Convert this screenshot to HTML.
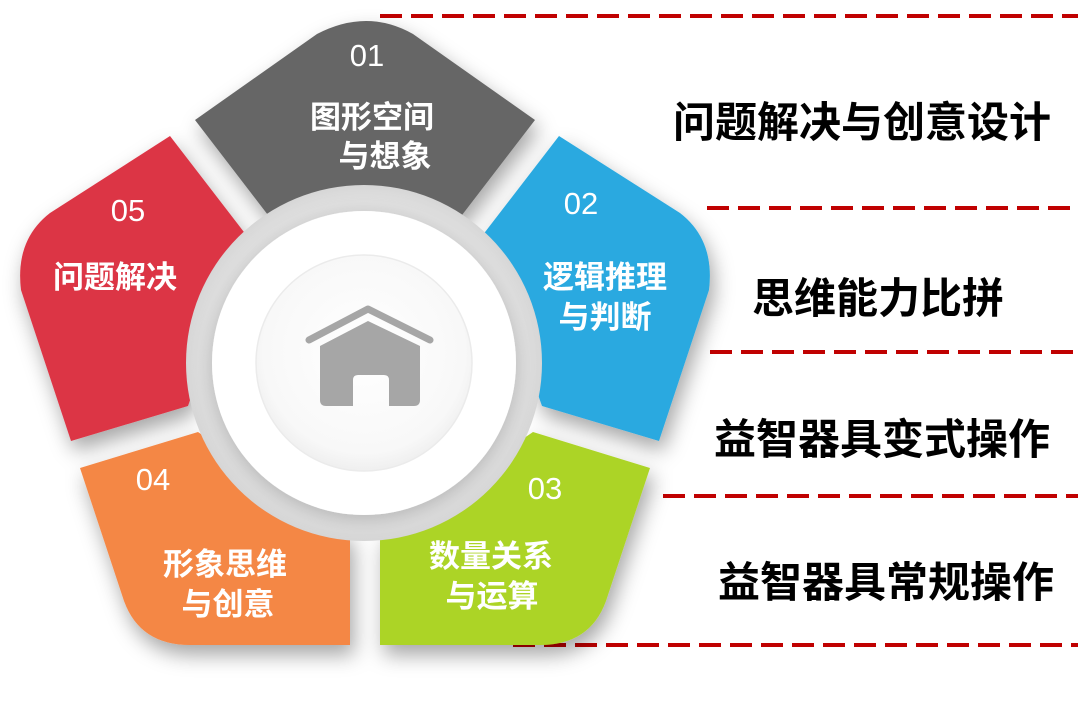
<!DOCTYPE html>
<html><head><meta charset="utf-8"><style>
html,body{margin:0;padding:0;background:#fff;}
svg{display:block;}
text{font-family:"Liberation Sans","Noto Sans CJK SC",sans-serif;}
</style></head><body>
<svg width="1081" height="711" viewBox="0 0 1081 711" xmlns="http://www.w3.org/2000/svg">
<defs>
<filter id="sh" x="-30%" y="-30%" width="160%" height="160%">
<feDropShadow dx="4" dy="10" stdDeviation="10" flood-color="#000" flood-opacity="0.35"/>
</filter>
<filter id="sh2" x="-30%" y="-30%" width="160%" height="160%">
<feDropShadow dx="0" dy="4" stdDeviation="10" flood-color="#000" flood-opacity="0.25"/>
</filter>
<radialGradient id="ring" cx="50%" cy="50%" r="50%">
<stop offset="82%" stop-color="#ececec"/><stop offset="100%" stop-color="#d6d6d6"/>
</radialGradient>
<radialGradient id="inner" cx="50%" cy="45%" r="55%">
<stop offset="0%" stop-color="#ffffff"/><stop offset="85%" stop-color="#f8f8f8"/><stop offset="100%" stop-color="#efefef"/>
</radialGradient>
</defs>
<g stroke="#c00000" stroke-width="4" stroke-dasharray="22 9">
<line x1="380" y1="16" x2="1078" y2="16"/>
<line x1="707" y1="208" x2="1072" y2="208"/>
<line x1="710" y1="352" x2="1074" y2="352"/>
<line x1="663" y1="496" x2="1078" y2="496"/>
<line x1="513" y1="645" x2="1078" y2="645"/>
</g>
<g filter="url(#sh)">
<path d="M195,120 L317,34 Q367,8 413,34 L535,120 L459,219 L271,219 Z" fill="#666666"/>
<path d="M559,136 L680,213 Q715,240 709,290 L659,441 L542,406 L482,236 Z" fill="#29a9e0"/>
<path d="M533,432 L650,468 L606,601 Q590,645 540,645 L380,645 L380,536 Z" fill="#acd425"/>
<path d="M198,432 L80,468 L124,601 Q140,645 190,645 L350,645 L350,536 Z" fill="#f48745"/>
<path d="M170,136 L50,213 Q15,240 21,290 L71,441 L188,406 L247,236 Z" fill="#dc3545"/>
</g>
<circle cx="364" cy="363" r="178" fill="url(#ring)"/>
<circle cx="364" cy="363" r="152" fill="#fff" filter="url(#sh2)"/>
<circle cx="364" cy="363" r="108" fill="url(#inner)" stroke="#ebebeb" stroke-width="1.5"/>
<g fill="#a6a6a6">
<path d="M309,340 L368,309 L430,340" fill="none" stroke="#a6a6a6" stroke-width="7" stroke-linecap="round" stroke-linejoin="round"/>
<path d="M320,346 L368,321 L420,346 L420,400 Q420,406 414,406 L389,406 L389,380 Q389,375 384,375 L358,375 Q353,375 353,380 L353,406 L326,406 Q320,406 320,400 Z"/>
</g>
<g fill="#fff" text-anchor="middle">
<text x="367" y="66" font-size="31">01</text>
<text x="372" y="128" font-size="31" font-weight="bold">图形空间</text>
<text x="385" y="167" font-size="31" font-weight="bold">与想象</text>
<text x="581" y="214" font-size="31">02</text>
<text x="605" y="288" font-size="31" font-weight="bold">逻辑推理</text>
<text x="605" y="328" font-size="31" font-weight="bold">与判断</text>
<text x="545" y="499" font-size="31">03</text>
<text x="491" y="567" font-size="31" font-weight="bold">数量关系</text>
<text x="492" y="607" font-size="31" font-weight="bold">与运算</text>
<text x="153" y="490" font-size="31">04</text>
<text x="225" y="575" font-size="31" font-weight="bold">形象思维</text>
<text x="228" y="615" font-size="31" font-weight="bold">与创意</text>
<text x="128" y="221" font-size="31">05</text>
<text x="115" y="288" font-size="31" font-weight="bold">问题解决</text>
</g>
<g fill="#000" font-weight="bold" font-size="42" text-anchor="middle">
<text x="862" y="137">问题解决与创意设计</text>
<text x="878" y="313">思维能力比拼</text>
<text x="882" y="454">益智器具变式操作</text>
<text x="886" y="597">益智器具常规操作</text>
</g>
</svg>
</body></html>
